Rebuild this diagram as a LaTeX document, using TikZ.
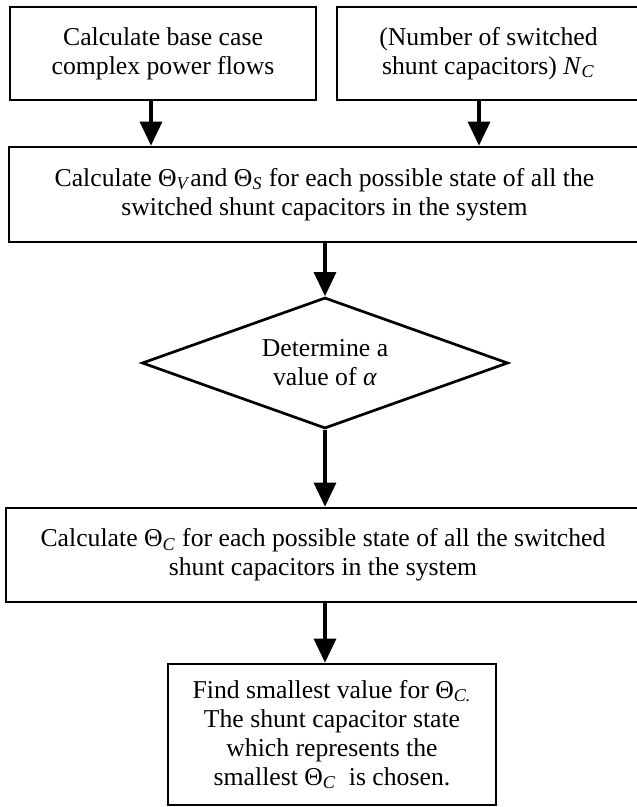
\documentclass[tikz,border=0pt]{standalone}
\usepackage{fontspec}
\setmainfont{Liberation Serif}
\usepackage{tikz}
\usetikzlibrary{arrows.meta}
\usetikzlibrary{shapes.geometric}

\newcommand{\Th}[1]{Θ\textsubscript{\textit{#1}}}

\begin{document}
\begin{tikzpicture}[x=0.5pt,y=-0.5pt,
  box/.style={draw,line width=1.35pt,align=center,inner sep=0pt,font=\fontsize{12.85}{14.5}\selectfont},
  choice/.style={diamond,aspect=2.8,draw,line width=1.35pt,align=center,inner sep=0pt,font=\fontsize{12.85}{14.5}\selectfont},
  flow/.style={line width=1.6pt,-{Triangle[length=12pt,width=11pt]}}]
\useasboundingbox (0,0) rectangle (636,807);
\node[box,minimum width=153pt,minimum height=46.5pt] (base) at (163,53.5) {Calculate base case\\complex power flows};
\node[box,minimum width=151.5pt,minimum height=46.5pt] (count) at (488.5,53.5) {(Number of switched\\shunt capacitors) \textit{N}\textsubscript{\textit{C}}};
\node[box,minimum width=315.5pt,minimum height=47.5pt] (states) at (324.5,194.5) {Calculate \Th{V}and \Th{S} for each possible state of all the\\switched shunt capacitors in the system};
\node[choice,minimum width=183pt,minimum height=65.5pt] (alpha) at (325,363) {Determine a\\value of \textit{α}};
\node[box,minimum width=317pt,minimum height=47pt] (cost) at (323,555) {Calculate \Th{C} for each possible state of all the switched\\shunt capacitors in the system};
\node[box,minimum width=164pt,minimum height=70.5pt] (pick) at (332,734.5) {Find smallest value for \Th{C.}\\The shunt capacitor state\\which represents the\\smallest \Th{C}~ is chosen.};
\coordinate (p1) at (151,0);
\coordinate (p2) at (479,0);
\draw[flow] (base.south -| p1) -- (states.north -| p1);
\draw[flow] (count.south -| p2) -- (states.north -| p2);
\draw[flow] (states.south -| alpha) -- (alpha.north);
\draw[flow] (alpha.south) -- (cost.north -| alpha);
\draw[flow] (cost.south -| alpha) -- (pick.north -| alpha);
\end{tikzpicture}
\end{document}
